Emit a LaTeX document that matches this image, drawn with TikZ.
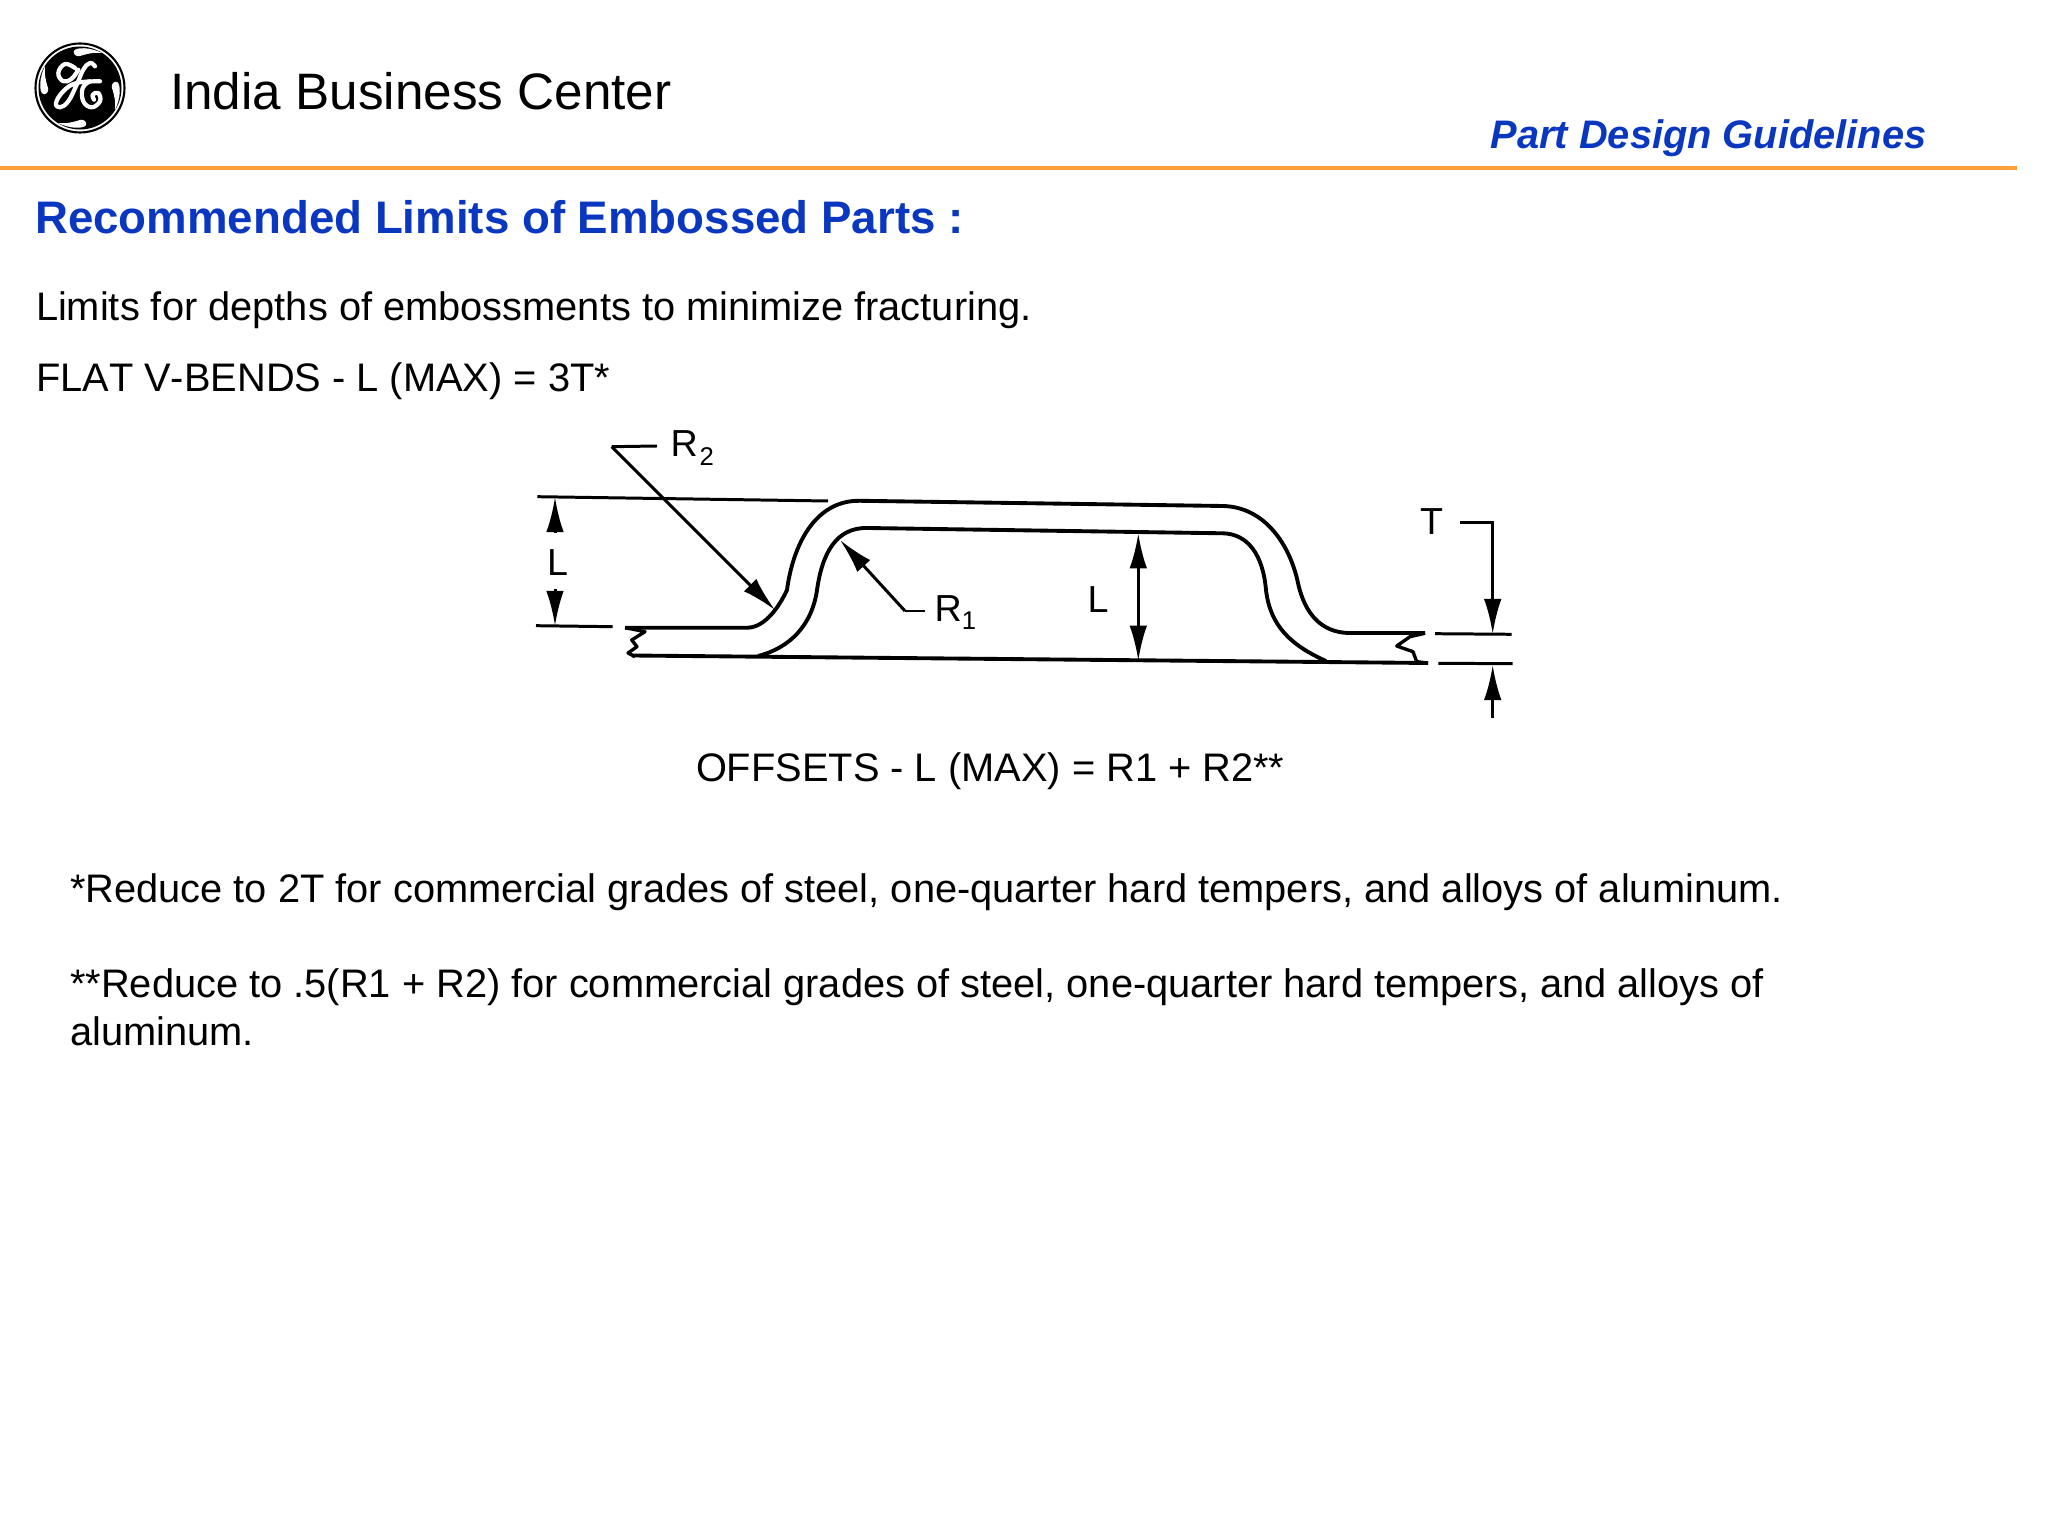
\documentclass[tikz,border=0pt]{standalone}
\usepackage{fontspec}
\setmainfont{Liberation Sans}
\usetikzlibrary{arrows.meta}
\definecolor{gebar}{HTML}{F9A137}
\definecolor{geblue}{HTML}{0A37C0}
\def\figsub#1#2#3{\kern#1\raisebox{-#2}{\fontsize{7.3}{8}\selectfont #3}}
\tikzset{
	plaintext/.style={anchor=base west,inner sep=0pt},
	bodytext/.style={plaintext,font=\fontsize{11.32}{14}\selectfont},
	headtext/.style={plaintext,text=geblue,font=\fontsize{12.98}{16}\selectfont\bfseries},
	figlabel/.style={plaintext,font=\fontsize{10.7}{12}\selectfont},
	contour/.style={line width=1.1pt,line join=round},
	thinline/.style={line width=0.85pt},
	breakline/.style={line width=0.95pt,line join=round},
	headtip/.style={-{Latex[length=10pt,width=5pt]},thinline},
	logostroke/.style={white,line width=1.2pt,line cap=round,line join=round}
}
\begin{document}
\begin{tikzpicture}[x=0.01cm,y=-0.01cm]
	\useasboundingbox (0,0) rectangle (2048,1534);
	%%%%% HEADER %%%%%
	\draw[black,line width=0.6pt,fill=white] (80,88) circle (44.5);
	\fill[black] (80,88) circle (41.5);
	\foreach \ang in {0,-90,-180,-270}
		\fill[white,shift={(80,88)},rotate=\ang] (-6,-37) .. controls (-4,-41) and (10,-41) .. (22,-35) .. controls (14,-36) and (6,-34) .. (0,-32) .. controls (-4,-31) and (-7,-34) .. (-6,-37);
	\draw[logostroke] plot[smooth,tension=0.7] coordinates {(75,68) (65,64) (58.3,73) (63.3,81.3) (71.7,78.7) (78.3,69.7)};
	\draw[logostroke] plot[smooth,tension=0.7] coordinates {(95,66.3) (90,63) (83.3,69.7) (76.7,84.7) (68.3,101.3) (60,107.3) (56,103) (63.3,91.3) (76.7,83) (100,81.3)};
	\draw[logostroke] plot[smooth,tension=0.7] coordinates {(90,81.3) (82.7,88) (83.3,101.3) (91.7,107.3) (100,101.3) (98.3,93) (92.7,94.7) (94,99.7)};
	\node[plaintext,font=\fontsize{14.57}{18}\selectfont] (center) at (169.5,109.3) {India Business Center};
	\node[plaintext,text=geblue,font=\fontsize{11.32}{14}\selectfont\bfseries\itshape] (guide) at (1490,149) {Part Design Guidelines};
	\draw[gebar,line width=1.14pt] (0,168) -- (2017,168);
	%%%%% TEXT %%%%%
	\node[headtext] (title) at (34.5,234) {Recommended Limits of Embossed Parts :};
	\node[bodytext] (limits) at (35.3,320.6) {Limits for depths of embossments to minimize fracturing.};
	\node[bodytext] (flat) at (35.3,392) {\addfontfeature{Kerning=Off}FLAT V-BENDS - L (MAX) = 3T*};
	\node[bodytext] (offsets) at (695.3,782) {OFFSETS - L (MAX) = R1 + R2**};
	\node[bodytext] (note1) at (69.5,902.3) {*Reduce to 2T for commercial grades of steel, one-quarter hard tempers, and alloys of aluminum.};
	\node[bodytext] (note2) at (69.5,997.3) {**Reduce to .5(R1 + R2) for commercial grades of steel, one-quarter hard tempers, and alloys of};
	\node[bodytext] (note3) at (69.5,1045) {aluminum.};
	%%%%% PART %%%%%
	\draw[contour] (625,627.7) -- (748,627.7) .. controls (766,627) and (780,605) .. (787,590) .. controls (793,545) and (815,500) .. (860,500.8) -- (1223,506) .. controls (1265,507) and (1290,545) .. (1298,583) .. controls (1305,615) and (1322,632) .. (1348,633) -- (1425,633);
	\draw[contour] (758,656) .. controls (790,648) and (812,625) .. (817,590) .. controls (822,555) and (835,527) .. (868,528) -- (1223,533.3) .. controls (1248,534) and (1263,555) .. (1266,590) .. controls (1270,625) and (1290,645) .. (1326,661);
	\draw[contour] (632,655.5) -- (1428,663);
	\draw[breakline] (625,627.7) -- (645,631.7) -- (631.7,640) -- (637,646.7) -- (628,653) -- (635,656.7);
	\draw[breakline] (1425,633.3) -- (1410,636.7) -- (1396.7,646) -- (1413,651.7) -- (1416.7,661.7) -- (1428,663);
	%%%%% DIMENSIONS %%%%%
	\draw[thinline] (537.3,496.7) -- (828,501);
	\draw[thinline] (536,625.7) -- (612.7,626.7);
	\coordinate (ltop) at (555,497);
	\coordinate (lbot) at (555,626);
	\draw[headtip] (555,533) -- (ltop);
	\draw[headtip] (555,589) -- (lbot);
	\node[figlabel] (lleft) at (546.5,576) {L};
	\draw[thinline] (657,446) -- (611.7,446.7);
	\draw[headtip] (611.7,446.7) -- (775,610);
	\node[figlabel] (rtwo) at (670,457) {R\figsub{0.5pt}{2.3pt}{2}};
	\draw[thinline] (925,611) -- (905,611);
	\draw[headtip] (905,611) -- (840,540);
	\node[figlabel] (rone) at (934,621.7) {R\figsub{0pt}{2.2pt}{1}};
	\draw[{Latex[length=10pt,width=5pt]}-{Latex[length=10pt,width=5pt]},thinline] (1138.3,533.3) -- (1138.3,660.7);
	\node[figlabel] (lmid) at (1087,612.7) {L};
	\node[figlabel] (tlab) at (1419.5,535) {T};
	\draw[thinline] (1435,633.7) -- (1511.7,634.3);
	\draw[thinline] (1438.3,663.3) -- (1512.7,663.7);
	\draw[headtip] (1460,522.5) -- (1492.7,522.5) -- (1492.7,634);
	\draw[headtip] (1492.7,717.7) -- (1492.7,665);
\end{tikzpicture}
\end{document}
